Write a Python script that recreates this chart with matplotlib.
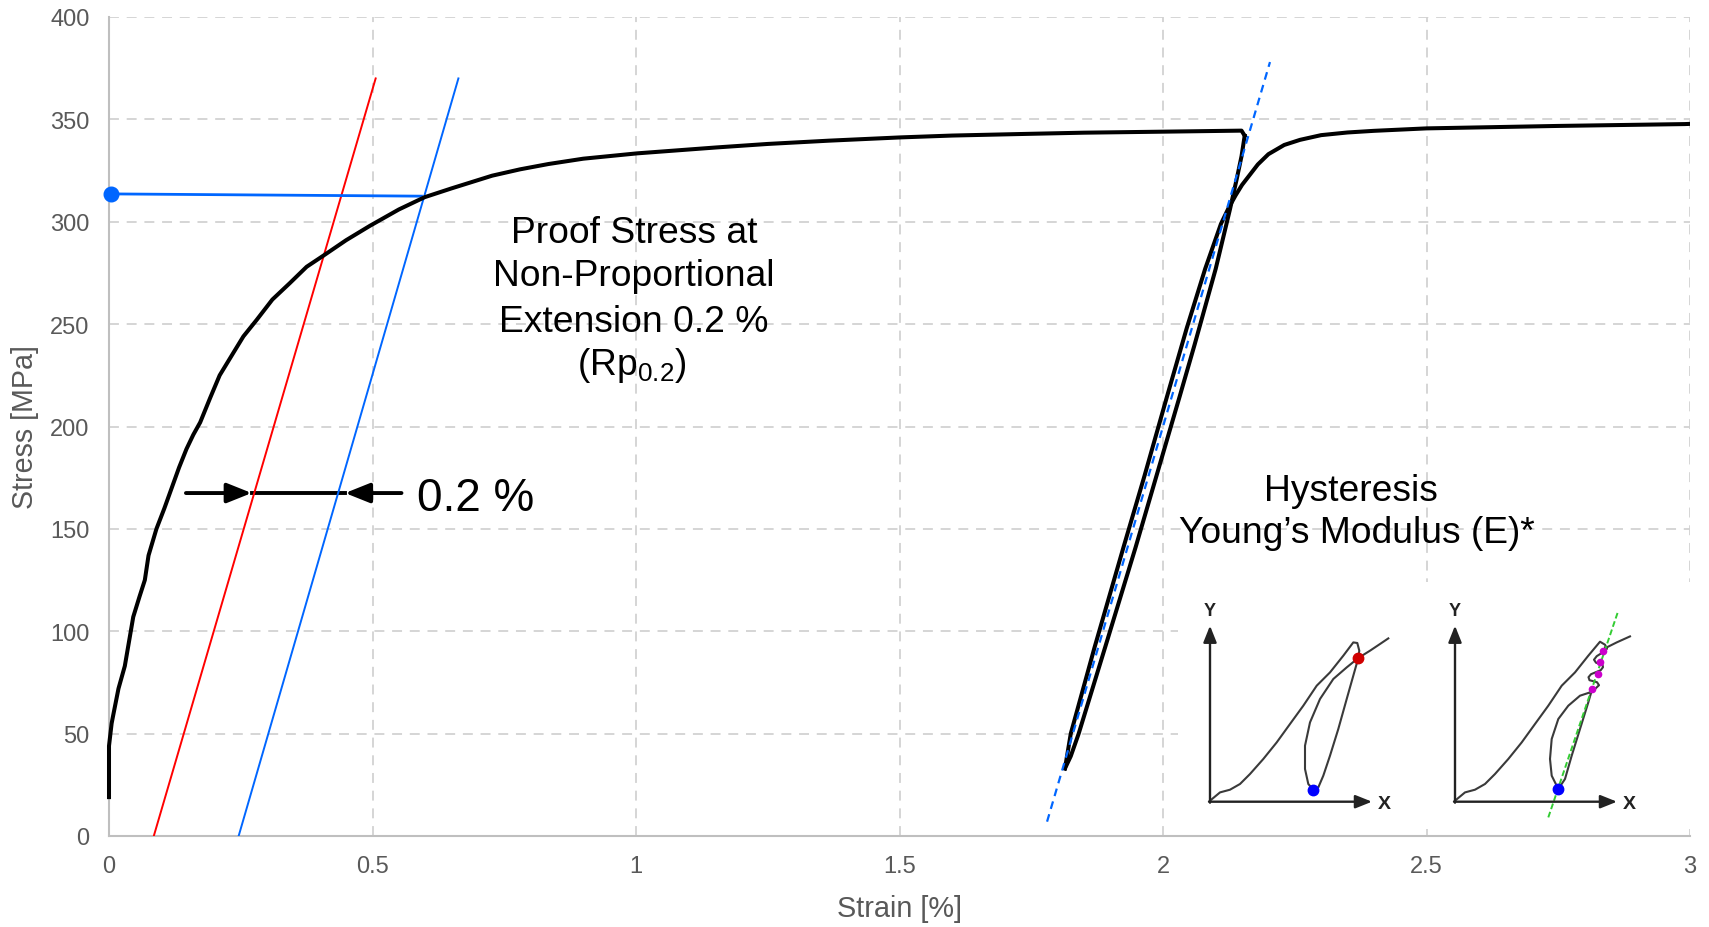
import matplotlib
matplotlib.use("Agg")
import matplotlib.pyplot as plt
import numpy as np

plt.rcParams['font.family'] = ['Liberation Sans', 'DejaVu Sans']
plt.rcParams['mathtext.fontset'] = 'custom'
plt.rcParams['mathtext.rm'] = 'Liberation Sans'

# ---------------- data ----------------
# first loading curve (strain %, stress MPa)
load_strain = [0.0, 0.0, 0.0, 0.005, 0.008, 0.018, 0.030, 0.038, 0.046, 0.058, 0.068,
               0.075, 0.090, 0.105, 0.119, 0.133, 0.147, 0.160, 0.173, 0.192, 0.210,
               0.236, 0.255, 0.280, 0.310, 0.343, 0.375, 0.410, 0.450, 0.495, 0.550,
               0.599, 0.650, 0.727, 0.780, 0.834, 0.900, 1.002, 1.153, 1.250, 1.366,
               1.502, 1.600, 1.739, 1.850, 2.002, 2.149, 2.155]
load_stress = [19, 30, 44, 55, 59, 72, 83, 95, 107, 117, 125,
               137, 150, 160, 170, 180, 189, 196, 202, 214, 225,
               236, 244, 252, 262, 270, 278, 284, 291, 298, 306,
               312, 316.3, 322.5, 325.6, 328.2, 330.8, 333.4, 336.3, 338, 339.6,
               341.2, 342.1, 342.9, 343.5, 344.0, 344.5, 342]
# unloading branch of hysteresis loop
unload_strain = [2.155, 2.149, 2.140, 2.127, 2.100, 2.060, 2.032, 1.990, 1.948, 1.890, 1.840, 1.825, 1.814]
unload_stress = [342, 332, 321, 306, 277, 240, 215, 178, 141, 92, 50, 39, 33]
# reloading branch after the loop
reload_strain = [1.814, 1.825, 1.870, 1.925, 1.965, 2.008, 2.045, 2.080, 2.110, 2.125, 2.138,
                 2.150, 2.165, 2.180, 2.200, 2.230, 2.260, 2.300, 2.350, 2.400, 2.500,
                 2.750, 2.990, 3.0]
reload_stress = [33, 50, 92, 141, 176, 215, 248, 277, 299, 307, 313,
                 318, 323, 328, 333, 337.5, 340, 342.3, 343.6, 344.4, 345.6,
                 346.8, 347.7, 347.8]

# elastic / offset lines
red_strain = [0.085, 0.506]
red_stress = [0, 370]
blue_strain = [0.246, 0.663]
blue_stress = [0, 370]
rp_strain = [0.003, 0.593]
rp_stress = [313.6, 312.5]
modulus_strain = [1.780, 2.203]
modulus_stress = [7, 378]

# 0.2 % dimension arrows
dim_stress = 167.5
dim_left = [0.146, 0.2707]
dim_right = [0.555, 0.448]

xticks = [0, 0.5, 1, 1.5, 2, 2.5, 3]
xticklabels = ['0', '0.5', '1', '1.5', '2', '2.5', '3']
yticks = [0, 50, 100, 150, 200, 250, 300, 350, 400]
yticklabels = ['0', '50', '100', '150', '200', '250', '300', '350', '400']

# schematic mini diagrams (local sketch units, origin at diagram axes corner)
sk1_load_x = [0, 10, 20, 30, 40, 53.3, 66.7, 80, 93.3, 106.7, 120, 133.3, 143.3, 147.3, 149.3, 148.3]
sk1_load_y = [1, 9.3, 12, 17.7, 27.7, 42.7, 59.3, 77.7, 96, 116, 129.3, 146, 159.3, 158.7, 151, 143.7]
sk1_unl_x = [148.3, 143.3, 136.7, 128.3, 120, 113.3, 108.3, 103.3]
sk1_unl_y = [143.7, 126, 102.7, 72.7, 46, 26, 14.3, 12]
sk1_rel_x = [103.3, 98.3, 95, 95, 100, 110, 123.3, 136.7, 148.3, 160, 170, 178.3]
sk1_rel_y = [12, 17.7, 32.7, 56, 79.3, 102.7, 122.7, 134.3, 143.7, 151, 157.7, 163.3]

sk2_load_x = [0, 10, 20, 30, 40, 53.3, 66.7, 80, 93.3, 106.7, 120, 133.3, 145, 150, 152, 147.7,
              141.7, 139, 141, 147.5, 148, 145.7, 136, 133.5, 134.5, 142, 144, 140, 135]
sk2_load_y = [1, 9.3, 12, 17.7, 27.7, 42.7, 59.3, 77.7, 96, 116, 129.3, 146, 160, 157, 153, 149.3,
              145.5, 142, 139, 137, 134.5, 131.5, 127.5, 124.5, 121.5, 119.5, 116.5, 112.7, 109.3]
sk2_loop_x = [135, 125, 113.3, 103.3, 96.7, 95, 96.7, 103.3, 110, 116.7, 125, 133.3, 136.7]
sk2_loop_y = [109.3, 106, 96, 82.7, 62.7, 42.7, 26, 12.7, 22.7, 46, 72.7, 99.3, 111]
sk2_cont_x = [150, 151.7, 161.7, 175]
sk2_cont_y = [154.3, 154.3, 159.3, 165.3]
sk2_fit_x = [93.3, 163.3]
sk2_fit_y = [-15.7, 191]
sk2_pts_x = [148.3, 145, 142.7, 136.7]
sk2_pts_y = [151, 139.3, 127.7, 112.7]
sk2_offset = 245

# ---------------- figure ----------------
W, H = 1709, 928
fig = plt.figure(figsize=(W / 100, H / 100), dpi=100)
ax = fig.add_axes([109 / W, (H - 837) / H, (1690 - 109) / W, (837 - 18) / H])

ax.set_xlim(0, 3)
ax.set_ylim(0, 400)
ax.set_xticks(xticks)
ax.set_xticklabels(xticklabels)
ax.set_yticks(yticks)
ax.set_yticklabels(yticklabels)
ax.tick_params(length=0, labelsize=17, labelcolor='#595959')
ax.tick_params(axis='y', pad=14)
ax.tick_params(axis='x', pad=14)
ax.grid(True, color='#d2d2d2', linestyle=(0, (5.5, 4.3)), linewidth=1.3)
ax.set_axisbelow(True)
for s in ['top', 'right']:
    ax.spines[s].set_visible(False)
for s in ['left', 'bottom']:
    ax.spines[s].set_color('#bfbfbf')
    ax.spines[s].set_linewidth(1.5)
ax.set_xlabel('Strain [%]', fontsize=20.8, color='#595959', labelpad=12)
ax.set_ylabel('Stress [MPa]', fontsize=20.6, color='#595959', labelpad=8)

# curves
ax.plot(load_strain, load_stress, color='black', lw=2.9, solid_joinstyle='round', clip_on=False, zorder=4)
ax.plot(unload_strain, unload_stress, color='black', lw=2.9, solid_joinstyle='round', zorder=4)
ax.plot(reload_strain, reload_stress, color='black', lw=2.9, solid_joinstyle='round', zorder=4)

ax.plot(red_strain, red_stress, color='#ff0000', lw=1.4, zorder=3)
ax.plot(blue_strain, blue_stress, color='#0066ff', lw=1.4, zorder=3)
ax.plot(rp_strain, rp_stress, color='#0066ff', lw=2.0, zorder=3)
ax.plot([rp_strain[0]], [rp_stress[0]], 'o', color='#0066ff', ms=10.5, clip_on=False, zorder=5)
ax.plot(modulus_strain, modulus_stress, color='#0066ff', lw=1.6, linestyle=(0, (3.5, 2.5)), zorder=5)

# 0.2 % dimension
arrow_kw = dict(arrowstyle='-|>,head_length=1.5,head_width=0.6', mutation_scale=10,
                lw=2.8, color='black', shrinkA=0, shrinkB=0)
ax.annotate('', xy=(dim_left[1], dim_stress), xytext=(dim_left[0], dim_stress), arrowprops=arrow_kw)
ax.annotate('', xy=(dim_right[1], dim_stress), xytext=(dim_right[0], dim_stress), arrowprops=arrow_kw)
ax.plot([dim_left[1], dim_right[1]], [dim_stress, dim_stress], color='black', lw=2.8)
ax.text(0.584, 159.4, '0.2 %', fontsize=33, va='baseline', ha='left')

# annotation texts
fs = 26.8
ax.text(0.996, 290.1, 'Proof Stress at', fontsize=fs, ha='center', va='baseline')
ax.text(0.996, 269.1, 'Non-Proportional', fontsize=fs, ha='center', va='baseline')
ax.text(0.996, 246.8, 'Extension 0.2 %', fontsize=fs, ha='center', va='baseline')
ax.text(0.993, 225.6, r'(Rp$_{\mathregular{0.2}}$)', fontsize=fs, ha='center', va='baseline')
ax.text(2.357, 164.2, 'Hysteresis', fontsize=fs, ha='center', va='baseline')
ax.text(2.368, 143.4, 'Young\u2019s Modulus (E)*', fontsize=fs, ha='center', va='baseline')

# ---------------- schematic insets ----------------
bx0, bx1, by0, by1 = 1178, 1700, 583, 830
ox, oy = 1210, 802.7
iax = fig.add_axes([bx0 / W, (H - by1) / H, (bx1 - bx0) / W, (by1 - by0) / H])
iax.set_xlim(bx0 - ox, bx1 - ox)
iax.set_ylim(oy - by1, oy - by0)
iax.axis('off')
iax.add_patch(plt.Rectangle((bx0 - ox, oy - by1), bx1 - bx0, by1 - by0, color='white', zorder=0))

gray = '#3a3a3a'
ax_kw = dict(arrowstyle='-|>,head_length=1.0,head_width=0.4', mutation_scale=10,
             lw=1.7, color='#222222', shrinkA=0, shrinkB=0)
for off in [0, sk2_offset]:
    iax.annotate('', xy=(off, 176), xytext=(off, -1), arrowprops=ax_kw)
    iax.annotate('', xy=(off + 162, 0), xytext=(off - 1, 0), arrowprops=ax_kw)
    iax.text(off, 191, 'Y', fontsize=13, fontweight='bold', ha='center', va='center', color='#222222')
    iax.text(off + 174, -2, 'X', fontsize=14, fontweight='bold', ha='center', va='center', color='#222222')

lw_sk = 1.5
iax.plot(sk1_load_x, sk1_load_y, color=gray, lw=lw_sk)
iax.plot(sk1_unl_x, sk1_unl_y, color=gray, lw=lw_sk)
iax.plot(sk1_rel_x, sk1_rel_y, color=gray, lw=lw_sk)
iax.plot([sk1_unl_x[0]], [sk1_unl_y[0]], 'o', color='#d00000', ms=7.5)
iax.plot([sk1_unl_x[-1]], [sk1_unl_y[-1]], 'o', color='#0000ff', ms=7.5)

iax.plot(np.array(sk2_load_x) + sk2_offset, sk2_load_y, color=gray, lw=lw_sk)
iax.plot(np.array(sk2_loop_x) + sk2_offset, sk2_loop_y, color=gray, lw=lw_sk)
iax.plot(np.array(sk2_cont_x) + sk2_offset, sk2_cont_y, color=gray, lw=lw_sk)
iax.plot(np.array(sk2_fit_x) + sk2_offset, sk2_fit_y, color='#33cc33', lw=1.4, linestyle=(0, (3, 1.5)))
iax.plot(np.array(sk2_pts_x) + sk2_offset, sk2_pts_y, 'o', color='#cc00cc', ms=4.5, linestyle='none')
iax.plot([sk2_loop_x[7] + sk2_offset], [sk2_loop_y[7]], 'o', color='#0000ff', ms=7.5)

fig.savefig('out.png', dpi=100)
